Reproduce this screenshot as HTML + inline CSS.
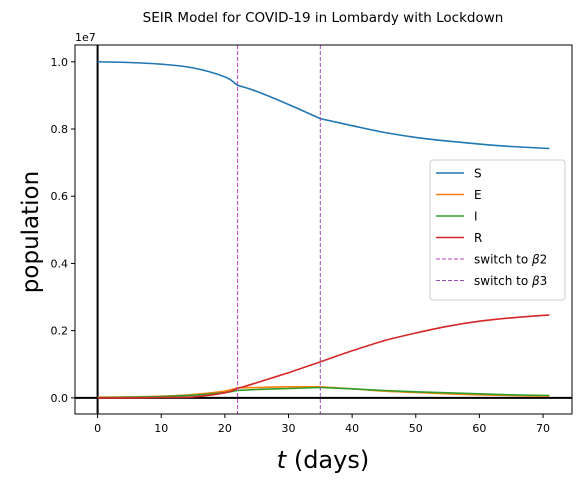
<!DOCTYPE html>
<html><head><meta charset="utf-8"><style>
body{margin:0;background:#fff;font-family:"Liberation Sans","DejaVu Sans",sans-serif}
text{font-family:"DejaVu Sans","Liberation Sans",sans-serif}
</style></head><body>
<svg id="chart" width="581" height="486" xmlns="http://www.w3.org/2000/svg">
<rect width="581" height="486" fill="#fff"/>
<text x="323" y="22" font-size="13.5" text-anchor="middle">SEIR Model for COVID-19 in Lombardy with Lockdown</text>
<g id="plot"></g>
</svg>
<script>
const days=[0,5,10,15,20,22,25,30,35,40,45,50,55,60,65,71];
const S=[1.0,0.998,0.993,0.982,0.955,0.930,0.912,0.873,0.831,0.810,0.790,0.775,0.764,0.755,0.748,0.742];
const E=[0.002,0.003,0.005,0.010,0.020,0.030,0.031,0.033,0.033,0.027,0.020,0.016,0.012,0.009,0.007,0.005];
const I=[0.001,0.002,0.004,0.008,0.016,0.022,0.025,0.028,0.031,0.027,0.022,0.018,0.015,0.012,0.009,0.007];
const R=[0.0,0.0,0.001,0.003,0.015,0.028,0.045,0.075,0.107,0.140,0.170,0.193,0.213,0.228,0.238,0.247];
const switchDays=[22,35];
const xTicks=[0,10,20,30,40,50,60,70];
const yTicks=[0.0,0.2,0.4,0.6,0.8,1.0];
const L=75,Rr=572,T=45,B=414;
const xMin=-3.55,xMax=74.55,yMin=-0.048,yMax=1.05;
const xs=v=>L+(v-xMin)/(xMax-xMin)*(Rr-L);
const ys=v=>B-(v-yMin)/(yMax-yMin)*(B-T);
const g=document.getElementById('plot');
const NS='http://www.w3.org/2000/svg';
function el(t,a,p){const e=document.createElementNS(NS,t);for(const k in a)e.setAttribute(k,a[k]);(p||g).appendChild(e);return e;}
function smooth(pts,breaks){
  let d='M'+pts[0][0].toFixed(1)+','+pts[0][1].toFixed(1);
  for(let i=0;i<pts.length-1;i++){
    const p0=pts[Math.max(i-1,0)],p1=pts[i],p2=pts[i+1],p3=pts[Math.min(i+2,pts.length-1)];
    const b1=breaks.includes(i),b2=breaks.includes(i+1);
    const c1x=p1[0]+(b1?0:(p2[0]-p0[0])/6)+(b1?(p2[0]-p1[0])/3:0),c1y=p1[1]+(b1?(p2[1]-p1[1])/3:(p2[1]-p0[1])/6);
    const c2x=p2[0]-(b2?(p2[0]-p1[0])/3:(p3[0]-p1[0])/6),c2y=p2[1]-(b2?(p2[1]-p1[1])/3:(p3[1]-p1[1])/6);
    d+='C'+c1x.toFixed(1)+','+c1y.toFixed(1)+' '+c2x.toFixed(1)+','+c2y.toFixed(1)+' '+p2[0].toFixed(1)+','+p2[1].toFixed(1);
  }
  return d;
}
const breakIdx=switchDays.map(d=>days.indexOf(d));
let e=el('line',{x1:xs(0),x2:xs(0),y1:T,y2:B,stroke:'#000','stroke-width':2});


e=el('line',{x1:L,x2:Rr,y1:ys(0),y2:ys(0),stroke:'#000','stroke-width':2});


const series=[['S',S,'#1f77b4'],['E',E,'#ff7f0e'],['I',I,'#2ca02c'],['R',R,'#d62728']];
series.forEach(([n,d,c])=>{
  const p=el('path',{d:smooth(d.map((v,i)=>[xs(days[i]),ys(v)]),breakIdx),fill:'none',stroke:c,'stroke-width':1.6});
  
  
});
switchDays.forEach((d,i)=>{
  const l=el('line',{x1:xs(d),x2:xs(d),y1:T,y2:B,stroke:i?'#9a4fb0':'#bf40bf','stroke-width':1,'stroke-dasharray':'4,2'});
  
  
});
e=el('rect',{x:L,y:T,width:Rr-L,height:B-T,fill:'none',stroke:'#000','stroke-width':1});


xTicks.forEach(t=>{
  el('line',{x1:xs(t),x2:xs(t),y1:B,y2:B+4,stroke:'#000'});
  const tx=el('text',{x:xs(t),y:B+18,'font-size':11,'text-anchor':'middle'});tx.textContent=t;
  
  
});
yTicks.forEach(t=>{
  el('line',{x1:L-4,x2:L,y1:ys(t),y2:ys(t),stroke:'#000'});
  const tx=el('text',{x:L-7,y:ys(t)+4,'font-size':11,'text-anchor':'end'});tx.textContent=t.toFixed(1);
  
  
});
e=el('text',{x:L,y:T-4,'font-size':11});e.textContent='1e7';


e=el('text',{x:323,y:468,'font-size':24,'text-anchor':'middle'});
e.innerHTML='<tspan font-style="italic">t</tspan> (days)';


e=el('text',{x:0,y:0,'font-size':23,'text-anchor':'middle',transform:'translate(38,232) rotate(-90)'});
e.textContent='population';


const lg=el('g',{});


el('rect',{x:430,y:160,width:135,height:140,rx:3,fill:'#fff','fill-opacity':0.8,stroke:'#ccc'},lg);
const entries=[['S','#1f77b4',0],['E','#ff7f0e',0],['I','#2ca02c',0],['R','#d62728',0],['switch to <tspan font-style="italic">β</tspan>2','#bf40bf',1],['switch to <tspan font-style="italic">β</tspan>3','#9a4fb0',1]];
entries.forEach(([t,c,d],i)=>{
  const y=173+i*21.5;
  const ln=el('line',{x1:436,x2:464,y1:y,y2:y,stroke:c,'stroke-width':d?1:1.6,'stroke-dasharray':d?'4,2':'none'},lg);
  
  
  const tx=el('text',{x:474,y:y+4.5,'font-size':12},lg);tx.innerHTML=t;
  
  
});
</script>
</body></html>
